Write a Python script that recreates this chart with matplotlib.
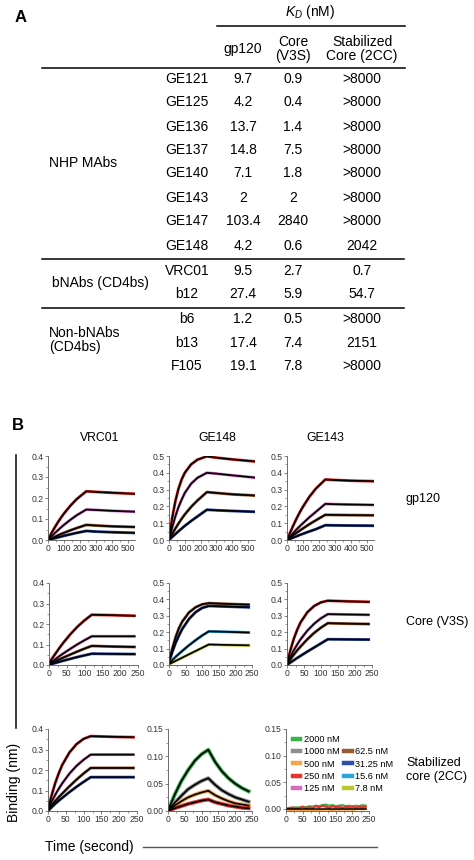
import matplotlib
matplotlib.use('Agg')
import matplotlib.pyplot as plt
from matplotlib.lines import Line2D
from matplotlib.ticker import MultipleLocator, AutoMinorLocator, FormatStrFormatter

plt.rcParams['font.family'] = ['Liberation Sans', 'DejaVu Sans']
plt.rcParams['mathtext.fontset'] = 'custom'
plt.rcParams['mathtext.rm'] = 'Liberation Sans'
plt.rcParams['mathtext.it'] = 'Liberation Sans:italic'

# ---------------- Panel A data ----------------
table_columns = ["gp120", "Core\n(V3S)", "Stabilized\nCore (2CC)"]
antibodies = ["GE121", "GE125", "GE136", "GE137", "GE140", "GE143", "GE147", "GE148",
              "VRC01", "b12", "b6", "b13", "F105"]
kd_gp120 = ["9.7", "4.2", "13.7", "14.8", "7.1", "2", "103.4", "4.2", "9.5", "27.4", "1.2", "17.4", "19.1"]
kd_core = ["0.9", "0.4", "1.4", "7.5", "1.8", "2", "2840", "0.6", "2.7", "5.9", "0.5", "7.4", "7.8"]
kd_2cc = [">8000", ">8000", ">8000", ">8000", ">8000", ">8000", ">8000", "2042", "0.7", "54.7", ">8000", "2151", ">8000"]
groups = ["NHP MAbs", "bNAbs (CD4bs)", "Non-bNAbs\n(CD4bs)"]

# ---------------- Panel B data ----------------
conc_labels = ["2000 nM", "1000 nM", "500 nM", "250 nM", "125 nM", "62.5 nM", "31.25 nM", "15.6 nM", "7.8 nM"]
conc_colors = ["#35b44a", "#8e8e8e", "#f6a54a", "#e8322b", "#d46cc0", "#9b5a32", "#2f4fa6", "#2aa7d9", "#bcc52a"]

# time points (s)
T_LONG = [0, 20, 40, 60, 80, 100, 140, 180, 240, 300, 400, 540]
T_SHORT = [0, 10, 20, 30, 40, 60, 80, 100, 120, 180, 240]
T_DECAY = [0, 20, 40, 60, 80, 100, 120, 140, 160, 180, 200, 220, 240]
T_FLAT = [0, 10, 20, 30, 40, 50, 60, 70, 80, 90, 100, 110, 120, 130, 140, 150, 160, 170, 180, 190, 200, 210, 220, 230, 240]
T_FIT_FLAT = [0, 240]

# VRC01 / gp120 (250, 125, 62.5, 31.25 nM)
vrc01_gp120_250 = [0, 0.03, 0.057, 0.082, 0.105, 0.126, 0.163, 0.195, 0.232, 0.229, 0.225, 0.22]
vrc01_gp120_125 = [0, 0.016, 0.031, 0.045, 0.059, 0.072, 0.096, 0.118, 0.145, 0.143, 0.139, 0.135]
vrc01_gp120_62 = [0, 0.007, 0.014, 0.021, 0.028, 0.034, 0.046, 0.057, 0.072, 0.069, 0.065, 0.062]
vrc01_gp120_31 = [0, 0.004, 0.008, 0.012, 0.016, 0.02, 0.027, 0.034, 0.043, 0.04, 0.037, 0.034]
# GE148 / gp120
ge148_gp120_250 = [0, 0.13, 0.23, 0.305, 0.36, 0.40, 0.45, 0.478, 0.498, 0.49, 0.48, 0.468]
ge148_gp120_125 = [0, 0.075, 0.14, 0.195, 0.24, 0.28, 0.335, 0.37, 0.40, 0.395, 0.385, 0.372]
ge148_gp120_62 = [0, 0.035, 0.068, 0.098, 0.126, 0.152, 0.197, 0.235, 0.285, 0.28, 0.272, 0.265]
ge148_gp120_31 = [0, 0.018, 0.035, 0.052, 0.068, 0.084, 0.113, 0.14, 0.18, 0.177, 0.173, 0.168]
# GE143 / gp120
ge143_gp120_250 = [0, 0.045, 0.088, 0.128, 0.165, 0.198, 0.257, 0.305, 0.36, 0.357, 0.353, 0.35]
ge143_gp120_125 = [0, 0.022, 0.043, 0.063, 0.082, 0.10, 0.135, 0.167, 0.215, 0.213, 0.211, 0.209]
ge143_gp120_62 = [0, 0.015, 0.029, 0.043, 0.056, 0.069, 0.094, 0.117, 0.15, 0.149, 0.148, 0.147]
ge143_gp120_31 = [0, 0.007, 0.015, 0.022, 0.03, 0.037, 0.051, 0.064, 0.088, 0.087, 0.086, 0.085]

# VRC01 / Core (V3S)
vrc01_core_250 = [0.008, 0.035, 0.06, 0.085, 0.108, 0.15, 0.187, 0.218, 0.245, 0.243, 0.24]
vrc01_core_125 = [0.005, 0.018, 0.031, 0.044, 0.056, 0.079, 0.101, 0.121, 0.14, 0.14, 0.14]
vrc01_core_62 = [0.003, 0.012, 0.02, 0.028, 0.036, 0.051, 0.066, 0.08, 0.093, 0.09, 0.088]
vrc01_core_31 = [0.0, 0.006, 0.011, 0.016, 0.021, 0.03, 0.039, 0.047, 0.055, 0.054, 0.053]
# GE148 / Core (62.5, 31.25, 15.6, 7.8 nM)
ge148_core_62 = [0.02, 0.10, 0.17, 0.225, 0.265, 0.32, 0.352, 0.37, 0.377, 0.372, 0.368]
ge148_core_31 = [0.02, 0.08, 0.135, 0.18, 0.22, 0.28, 0.322, 0.348, 0.36, 0.356, 0.352]
ge148_core_15 = [0.01, 0.03, 0.05, 0.068, 0.086, 0.12, 0.151, 0.18, 0.205, 0.202, 0.198]
ge148_core_7 = [0.005, 0.015, 0.025, 0.035, 0.045, 0.065, 0.085, 0.105, 0.125, 0.122, 0.12]
# GE143 / Core
ge143_core_250 = [0.01, 0.09, 0.16, 0.215, 0.26, 0.322, 0.36, 0.382, 0.392, 0.388, 0.385]
ge143_core_125 = [0.01, 0.05, 0.09, 0.125, 0.157, 0.21, 0.252, 0.285, 0.31, 0.308, 0.306]
ge143_core_62 = [0.005, 0.035, 0.063, 0.089, 0.113, 0.157, 0.196, 0.228, 0.255, 0.252, 0.25]
ge143_core_31 = [0.0, 0.015, 0.029, 0.043, 0.056, 0.082, 0.107, 0.132, 0.157, 0.156, 0.155]

# VRC01 / Stabilized core (2CC)
vrc01_2cc_250 = [0.01, 0.075, 0.135, 0.183, 0.225, 0.285, 0.326, 0.352, 0.365, 0.362, 0.36]
vrc01_2cc_125 = [0.01, 0.045, 0.078, 0.108, 0.135, 0.182, 0.22, 0.25, 0.275, 0.275, 0.275]
vrc01_2cc_62 = [0.005, 0.027, 0.048, 0.067, 0.085, 0.12, 0.153, 0.183, 0.21, 0.21, 0.21]
vrc01_2cc_31 = [0.0, 0.018, 0.035, 0.05, 0.064, 0.092, 0.118, 0.142, 0.165, 0.165, 0.165]
# GE148 / 2CC (2000, 1000, 500, 250 nM)
ge148_2cc_2000 = [0.0, 0.03, 0.055, 0.075, 0.092, 0.104, 0.112, 0.09, 0.073, 0.06, 0.05, 0.042, 0.036]
ge148_2cc_1000 = [0.0, 0.015, 0.028, 0.04, 0.048, 0.055, 0.06, 0.048, 0.038, 0.031, 0.025, 0.021, 0.017]
ge148_2cc_500 = [0.0, 0.01, 0.018, 0.025, 0.03, 0.034, 0.037, 0.029, 0.023, 0.018, 0.014, 0.012, 0.01]
ge148_2cc_250 = [0.0, 0.005, 0.009, 0.013, 0.016, 0.019, 0.021, 0.016, 0.013, 0.01, 0.008, 0.006, 0.005]
# GE143 / 2CC (no binding)
ge143_2cc_2000 = [0.0, 0.002, 0.001, 0.003, 0.002, 0.004, 0.003, 0.005, 0.004, 0.006, 0.005, 0.007, 0.008,
                  0.006, 0.007, 0.005, 0.006, 0.007, 0.005, 0.006, 0.004, 0.006, 0.005, 0.007, 0.006]
ge143_2cc_500 = [0.0, -0.002, -0.003, -0.001, -0.003, -0.002, -0.004, -0.002, -0.003, -0.003, -0.002, -0.003, -0.001,
                 -0.002, -0.003, -0.001, -0.002, -0.001, -0.002, -0.001, -0.002, -0.001, 0.0, -0.001, 0.0]
ge143_2cc_250 = [0.0, 0.001, 0.003, 0.0, 0.002, 0.004, 0.001, 0.003, 0.002, 0.005, 0.003, 0.006, 0.004,
                 0.002, 0.005, 0.003, 0.004, 0.002, 0.004, 0.003, 0.005, 0.002, 0.004, 0.003, 0.004]
ge143_2cc_fit = [0.0, 0.0]

W, H = 474, 860
fig = plt.figure(figsize=(W / 100, H / 100), dpi=100)


def fx(x):
    return x / W


def fy(y):
    return 1 - y / H


def hline(x0, x1, y, color='black', lw=1.1):
    fig.add_artist(Line2D([fx(x0), fx(x1)], [fy(y), fy(y)], color=color, lw=lw,
                          transform=fig.transFigure))


def vline(x, y0, y1, color='black', lw=1.1):
    fig.add_artist(Line2D([fx(x), fx(x)], [fy(y0), fy(y1)], color=color, lw=lw,
                          transform=fig.transFigure))


# ---------------- Panel A: table ----------------
fig.text(fx(15), fy(17), "A", fontsize=12, fontweight='bold', ha='left', va='center')
fig.text(fx(310), fy(12), r"$K_D$ (nM)", fontsize=10, ha='center', va='center')
hline(217, 405, 26)
col_x = [243, 293, 362]
for cx, lab in zip(col_x, table_columns):
    fig.text(fx(cx), fy(49), lab, fontsize=10, ha='center', va='center', linespacing=1.05)
hline(42, 405, 68)

row_y = [79, 102, 127, 150, 173, 198, 221, 246, 271, 294, 319, 343, 366]
for y, ab, a, b, c in zip(row_y, antibodies, kd_gp120, kd_core, kd_2cc):
    fig.text(fx(187), fy(y), ab, fontsize=10, ha='center', va='center')
    fig.text(fx(243), fy(y), a, fontsize=10, ha='center', va='center')
    fig.text(fx(293), fy(y), b, fontsize=10, ha='center', va='center')
    fig.text(fx(362), fy(y), c, fontsize=10, ha='center', va='center')
hline(42, 404, 259)
hline(42, 404, 308)
fig.text(fx(49), fy(163), groups[0], fontsize=10, ha='left', va='center')
fig.text(fx(52), fy(283), groups[1], fontsize=10, ha='left', va='center')
fig.text(fx(49), fy(340), groups[2], fontsize=10, ha='left', va='center', linespacing=1.0)

# ---------------- Panel B ----------------
fig.text(fx(12), fy(426), "B", fontsize=12, fontweight='bold', ha='left', va='center')
for cx, t in zip([100, 217, 325], ["VRC01", "GE148", "GE143"]):
    fig.text(fx(cx), fy(438), t, fontsize=8.8, ha='center', va='center')

fig.text(fx(405), fy(499), "gp120", fontsize=9, ha='left', va='center')
fig.text(fx(406), fy(622), "Core (V3S)", fontsize=9, ha='left', va='center')
fig.text(fx(406), fy(770), "Stabilized\ncore (2CC)", fontsize=9, ha='left', va='center', linespacing=1.15)

vline(16, 455, 728)
fig.text(fx(14), fy(782), "Binding (nm)", fontsize=10, rotation=90, ha='center', va='center')
fig.text(fx(45), fy(847), "Time (second)", fontsize=10, ha='left', va='center')
hline(143, 377, 847, color='#555555', lw=1.0)


def make_ax(left, right, top, bottom, xmax, xstep, ymin, ymax, ystep, yfmt):
    ax = fig.add_axes([fx(left), fy(bottom), (right - left) / W, (bottom - top) / H])
    ax.set_xlim(0, xmax)
    ax.set_ylim(ymin, ymax)
    ax.xaxis.set_major_locator(MultipleLocator(xstep))
    ax.yaxis.set_major_locator(MultipleLocator(ystep))
    ax.xaxis.set_minor_locator(AutoMinorLocator(2))
    ax.yaxis.set_minor_locator(AutoMinorLocator(2))
    ax.yaxis.set_major_formatter(FormatStrFormatter(yfmt))
    for s in ['top', 'right']:
        ax.spines[s].set_visible(False)
    for s in ['left', 'bottom']:
        ax.spines[s].set_color('#555555')
        ax.spines[s].set_linewidth(0.6)
    ax.tick_params(which='major', labelsize=6.2, colors='#555555', labelcolor='#333333',
                   length=2.2, width=0.5, pad=1)
    ax.tick_params(which='minor', colors='#555555', length=1.2, width=0.4)
    ax.patch.set_alpha(0)
    return ax


def draw(ax, t, curves, colors, fit=True, lw=2.1):
    for v, c in zip(curves, colors):
        ax.plot(t, v, color=c, lw=lw, solid_joinstyle='round')
    if fit:
        for v in curves:
            ax.plot(t, v, color='black', lw=1.25, solid_joinstyle='round')


C = dict(zip(conc_labels, conc_colors))
c4 = [C["250 nM"], C["125 nM"], C["62.5 nM"], C["31.25 nM"]]

# Row 1: gp120
ax = make_ax(48, 135, 456, 540, 545, 100, 0, 0.4, 0.1, '%.1f')
draw(ax, T_LONG, [vrc01_gp120_250, vrc01_gp120_125, vrc01_gp120_62, vrc01_gp120_31], c4)
ax = make_ax(169, 255, 456, 540, 545, 100, 0, 0.5, 0.1, '%.1f')
draw(ax, T_LONG, [ge148_gp120_250, ge148_gp120_125, ge148_gp120_62, ge148_gp120_31], c4)
ax = make_ax(287, 374, 456, 540, 545, 100, 0, 0.5, 0.1, '%.1f')
draw(ax, T_LONG, [ge143_gp120_250, ge143_gp120_125, ge143_gp120_62, ge143_gp120_31], c4)

# Row 2: Core (V3S)
ax = make_ax(49, 138, 583, 665, 250, 50, 0, 0.4, 0.1, '%.1f')
draw(ax, T_SHORT, [vrc01_core_250, vrc01_core_125, vrc01_core_62, vrc01_core_31], c4)
ax = make_ax(169, 252, 583, 665, 250, 50, 0, 0.5, 0.1, '%.1f')
draw(ax, T_SHORT, [ge148_core_62, ge148_core_31, ge148_core_15, ge148_core_7],
     [C["62.5 nM"], C["31.25 nM"], C["15.6 nM"], C["7.8 nM"]])
ax = make_ax(287, 372, 583, 665, 250, 50, 0, 0.5, 0.1, '%.1f')
draw(ax, T_SHORT, [ge143_core_250, ge143_core_125, ge143_core_62, ge143_core_31], c4)

# Row 3: Stabilized core (2CC)
ax = make_ax(48, 137, 729, 811, 250, 50, 0, 0.4, 0.1, '%.1f')
draw(ax, T_SHORT, [vrc01_2cc_250, vrc01_2cc_125, vrc01_2cc_62, vrc01_2cc_31], c4)
ax = make_ax(168, 252, 729, 811, 250, 50, 0, 0.15, 0.05, '%.2f')
draw(ax, T_DECAY, [ge148_2cc_2000, ge148_2cc_1000, ge148_2cc_500, ge148_2cc_250],
     [C["2000 nM"], C["1000 nM"], C["500 nM"], C["250 nM"]], lw=2.8)
ax = make_ax(286, 369, 729, 811, 250, 50, -0.004, 0.15, 0.05, '%.2f')
draw(ax, T_FLAT, [ge143_2cc_2000, ge143_2cc_500, ge143_2cc_250],
     [C["2000 nM"], C["500 nM"], C["250 nM"]], fit=False, lw=1.6)
ax.plot(T_FIT_FLAT, ge143_2cc_fit, color='black', lw=1.1)

# Legend (two columns, second column starts one row lower)
handles = [Line2D([], [], color=C[l], lw=3.2) for l in conc_labels[:5]]
handles += [Line2D([], [], color='none', lw=0)]
handles += [Line2D([], [], color=C[l], lw=3.2) for l in conc_labels[5:]]
labels = conc_labels[:5] + [''] + conc_labels[5:]
fig.legend(handles, labels, loc='upper left', bbox_to_anchor=(fx(293), fy(735)),
           bbox_transform=fig.transFigure, ncol=2, frameon=False, fontsize=6.6,
           handlelength=0.8, handletextpad=0.4, columnspacing=0.5, labelspacing=0.36,
           borderpad=0, borderaxespad=0)

fig.savefig('out.png', dpi=100)
